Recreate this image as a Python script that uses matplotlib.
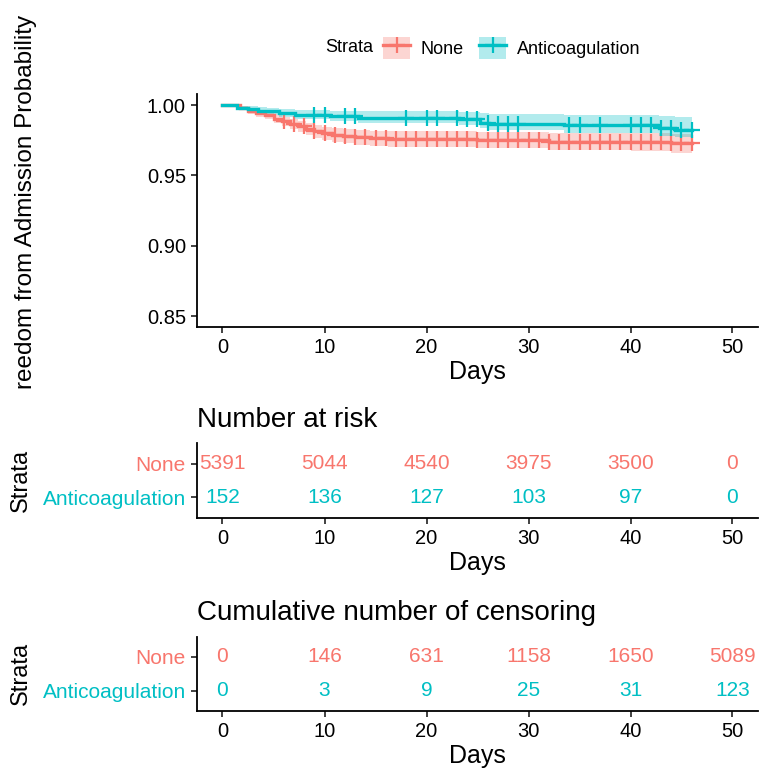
import numpy as np
import matplotlib
matplotlib.use("Agg")
import matplotlib.pyplot as plt
from matplotlib.patches import Patch
from matplotlib.lines import Line2D

plt.rcParams['font.family'] = ['Liberation Sans', 'DejaVu Sans']

# ---------------- data ----------------
strata = ["None", "Anticoagulation"]
colors = ["#F8766D", "#00BFC4"]

none_t = [0, 1.7, 2.5, 3.3, 4.2, 5.0, 5.8, 6.6, 7.4, 8.2, 9.0, 9.8, 10.7, 11.8, 13.0,
          14.5, 16.2, 20, 25, 32, 40, 44, 46]
none_s = [1.0, 0.998, 0.9955, 0.994, 0.9927, 0.990, 0.9884, 0.9867, 0.985, 0.983, 0.9813,
          0.980, 0.979, 0.978, 0.977, 0.9765, 0.976, 0.9757, 0.975, 0.974, 0.9735, 0.9727, 0.9727]
none_lo = [1.0, 0.9968, 0.9937, 0.9918, 0.9902, 0.987, 0.9851, 0.9831, 0.9811, 0.9788, 0.9768,
           0.9753, 0.9741, 0.9729, 0.9717, 0.9711, 0.9705, 0.9701, 0.9692, 0.968, 0.967, 0.9659, 0.9659]
none_hi = [1.0, 0.9992, 0.9973, 0.9962, 0.9952, 0.993, 0.9917, 0.9903, 0.9889, 0.9872, 0.9858,
           0.9847, 0.9839, 0.9831, 0.9823, 0.9819, 0.9815, 0.9813, 0.9808, 0.980, 0.980, 0.9795, 0.9795]
none_cens = [6, 7, 8, 9, 10, 11, 12, 13, 14, 15, 16, 17, 18, 19, 20, 21, 22, 23, 24, 25, 26,
             27, 28, 29, 30, 31, 32, 33, 34, 35, 36, 37, 38, 39, 40, 41, 42, 43, 44, 45, 46]

anti_t = [0, 1.4, 2.5, 3.5, 4.4, 5.5, 7.1, 10.5, 13.3, 23.2, 25.2, 26.1, 33.5, 42.8, 44.4, 46]
anti_s = [1.0, 0.998, 0.997, 0.996, 0.9955, 0.994, 0.993, 0.992, 0.991, 0.9898, 0.9874,
          0.9865, 0.9858, 0.9834, 0.9822, 0.9822]
anti_lo = [1.0, 0.9965, 0.995, 0.994, 0.993, 0.9915, 0.990, 0.989, 0.9875, 0.986, 0.9835,
           0.9825, 0.980, 0.978, 0.9775, 0.9775]
anti_hi = [1.0, 0.9995, 0.999, 0.9985, 0.998, 0.997, 0.9965, 0.996, 0.9955, 0.995, 0.994,
           0.9935, 0.993, 0.992, 0.9918, 0.9918]
anti_cens = [9, 10, 12, 13, 18, 20, 21, 23, 24, 25, 26, 27, 28, 29, 34, 35, 37, 40, 41,
             42, 43, 44, 45, 46]

table_times = [0, 10, 20, 30, 40, 50]
risk_none = [5391, 5044, 4540, 3975, 3500, 0]
risk_anti = [152, 136, 127, 103, 97, 0]
cens_none = [0, 146, 631, 1158, 1650, 5089]
cens_anti = [0, 3, 9, 25, 31, 123]

x_ticks = [0, 10, 20, 30, 40, 50]
y_ticks = [0.85, 0.90, 0.95, 1.00]

# ---------------- layout ----------------
W, H = 761, 768
fig = plt.figure(figsize=(W / 100, H / 100), dpi=100)


def rect(l, t, r, b):
    return [l / W, 1 - b / H, (r - l) / W, (b - t) / H]


XLIM = (-2.5, 52.5)
TICK_FS = 14.5
LAB_FS = 18
LW_AX = 1.3


def style(ax):
    for s in ["top", "right"]:
        ax.spines[s].set_visible(False)
    for s in ["left", "bottom"]:
        ax.spines[s].set_linewidth(LW_AX)
        ax.spines[s].set_color("black")
    ax.tick_params(axis="both", length=4.5, width=LW_AX, color="#333333",
                   labelsize=TICK_FS, labelcolor="black", pad=3.5)


# ---------------- main plot ----------------
ax = fig.add_axes(rect(197, 94.5, 758, 326.7))
style(ax)

series = [(none_t, none_s, none_lo, none_hi, none_cens),
          (anti_t, anti_s, anti_lo, anti_hi, anti_cens)]
for (t, s, lo, hi, cens), c in zip(series, colors):
    ax.fill_between(t, lo, hi, step="post", color=c, alpha=0.3, lw=0)
    ax.step(t, s, where="post", color=c, lw=2.4, solid_joinstyle="miter")
    idx = np.searchsorted(t, cens, side="right") - 1
    ax.plot(cens, np.asarray(s)[idx], ls="none", marker="+", ms=11, mew=1.6, color=c)

ax.set_xlim(*XLIM)
ax.set_ylim(0.8425, 1.0075)
ax.set_xticks(x_ticks)
ax.set_yticks(y_ticks)
ax.set_yticklabels([f"{v:.2f}" for v in y_ticks])
ax.set_xlabel("Days", fontsize=LAB_FS, labelpad=2)

fig.text(26 / W, 1 - 201.5 / H, "reedom from Admission Probability", rotation=90,
         fontsize=17.5, ha="center", va="center")

# legend
handles = [(Patch(facecolor=c, alpha=0.3, lw=0),
            Line2D([], [], color=c, lw=2.4, marker="+", ms=11, mew=1.6)) for c in colors]
fig.text(349 / W, 1 - 48 / H, "Strata", fontsize=13, ha="center", va="center")
fig.legend(handles, strata, loc="center left", bbox_to_anchor=(383 / W, 1 - 48 / H),
           ncol=2, frameon=False, fontsize=13, handlelength=1.5, handleheight=1.5,
           handletextpad=0.6, columnspacing=0.85, borderaxespad=0, borderpad=0)


# ---------------- tables ----------------
def table(top, bottom, title, vals_none, vals_anti):
    tx = fig.add_axes(rect(197, top, 758, bottom))
    style(tx)
    tx.set_xlim(*XLIM)
    tx.set_ylim(0.4, 2.6)
    for v_list, ypos, c in [(vals_none, 2, colors[0]), (vals_anti, 1, colors[1])]:
        for xt, v in zip(table_times, v_list):
            tx.text(xt, ypos, str(v), color=c, fontsize=15, ha="center", va="center")
    tx.set_yticks([2, 1])
    tx.set_yticklabels(strata, fontsize=15)
    for lab, c in zip(tx.get_yticklabels(), colors):
        lab.set_color(c)
    tx.set_xticks(x_ticks)
    tx.set_xlabel("Days", fontsize=LAB_FS, labelpad=2)
    fig.text(21 / W, 1 - (top + bottom) / 2 / H, "Strata", rotation=90,
             fontsize=17, ha="center", va="center")
    tx.set_title(title, fontsize=20, loc="left", pad=12)
    return tx


t1 = table(443.3, 517.7, "Number at risk", risk_none, risk_anti)
t2 = table(636.7, 710.7, "Cumulative number of censoring", cens_none, cens_anti)

fig.savefig("out.png", dpi=100)
